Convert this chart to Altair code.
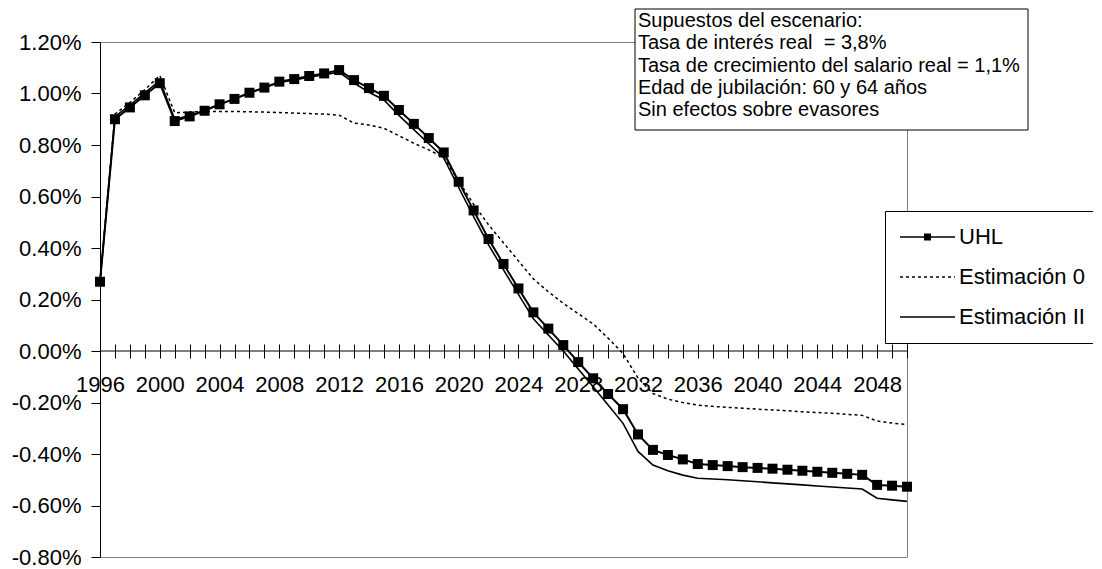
import altair as alt
import pandas as pd

years = list(range(1996, 2051))

uhl = [0.269, 0.900, 0.946, 0.993, 1.040, 0.893, 0.911, 0.933, 0.958, 0.979,
       1.003, 1.023, 1.046, 1.056, 1.068, 1.078, 1.091, 1.052, 1.021, 0.991,
       0.936, 0.882, 0.827, 0.771, 0.657, 0.546, 0.435, 0.338, 0.243, 0.150,
       0.087, 0.023, -0.043, -0.106, -0.167, -0.226, -0.324, -0.384, -0.404, -0.421,
       -0.439, -0.443, -0.447, -0.451, -0.454, -0.457, -0.461, -0.465, -0.469, -0.473,
       -0.477, -0.481, -0.520, -0.523, -0.527]

est0 = [0.269, 0.920, 0.965, 1.015, 1.070, 0.925, 0.928, 0.930, 0.930, 0.930,
        0.929, 0.928, 0.926, 0.924, 0.922, 0.920, 0.916, 0.885, 0.878, 0.865,
        0.836, 0.807, 0.781, 0.752, 0.660, 0.570, 0.490, 0.420, 0.350, 0.280,
        0.230, 0.185, 0.145, 0.105, 0.050, -0.010, -0.105, -0.165, -0.187, -0.200,
        -0.210, -0.215, -0.219, -0.222, -0.226, -0.229, -0.232, -0.236, -0.239, -0.242,
        -0.246, -0.250, -0.272, -0.280, -0.286]

est2 = [0.269, 0.910, 0.955, 1.002, 1.050, 0.900, 0.914, 0.935, 0.958, 0.979,
        1.002, 1.022, 1.043, 1.053, 1.063, 1.073, 1.083, 1.040, 1.005, 0.975,
        0.915, 0.860, 0.805, 0.750, 0.635, 0.522, 0.412, 0.315, 0.220, 0.125,
        0.062, 0.000, -0.070, -0.139, -0.210, -0.281, -0.390, -0.443, -0.465, -0.482,
        -0.494, -0.497, -0.500, -0.504, -0.508, -0.512, -0.516, -0.520, -0.524, -0.528,
        -0.532, -0.536, -0.572, -0.578, -0.584]

series_names = ["UHL", "Estimación 0", "Estimación II"]
y_ticks = [-0.008, -0.006, -0.004, -0.002, 0.0, 0.002, 0.004, 0.006, 0.008, 0.010, 0.012]
box_lines = [
    "Supuestos del escenario:",
    "Tasa de interés real \u00a0= 3,8%",
    "Tasa de crecimiento del salario real = 1,1%",
    "Edad de jubilación: 60 y 64 años",
    "Sin efectos sobre evasores",
]

rows = []
for name, vals in zip(series_names, [uhl, est0, est2]):
    for yr, v in zip(years, vals):
        rows.append({"year": yr, "value": v / 100.0, "series": name})
df = pd.DataFrame(rows)

FONT = "Liberation Sans"
AXFS = 22

x_enc = alt.X(
    "year:Q",
    scale=alt.Scale(domain=[1996, 2050], nice=False, zero=False),
    axis=alt.Axis(
        values=years, orient="bottom", offset=-213, domain=False,
        tickSize=14, tickColor="black", tickWidth=1,
        labelExpr="(datum.value - 1996) % 4 == 0 ? format(datum.value, 'd') : ''",
        labelPadding=16, labelFontSize=AXFS, labelFont=FONT, labelColor="black",
        labelOverlap=False, labelFlush=False, grid=False, title=None,
    ),
)
y_enc = alt.Y(
    "value:Q",
    scale=alt.Scale(domain=[-0.008, 0.012], nice=False, zero=False),
    axis=alt.Axis(
        values=y_ticks,
        labelExpr="(datum.value < 0 ? '-' : '') + format(abs(datum.value) * 100, '.2f') + '%'",
        tickSize=9, tickColor="black", domainColor="black", domainWidth=1,
        labelPadding=10, labelFontSize=AXFS, labelFont=FONT, labelColor="black",
        grid=False, title=None, labelFlush=False, labelOverlap=False,
    ),
)

base = alt.Chart(df).encode(x=x_enc, y=y_enc)

zero_rule = alt.Chart(pd.DataFrame({"value": [0.0]})).mark_rule(
    color="black", strokeWidth=1
).encode(y=y_enc)

e0 = base.transform_filter(alt.datum.series == "Estimación 0").mark_line(
    color="black", strokeWidth=1.5, strokeDash=[3, 3]
)
e2 = base.transform_filter(alt.datum.series == "Estimación II").mark_line(
    color="black", strokeWidth=1.6
)
u_line = base.transform_filter(alt.datum.series == "UHL").mark_line(
    color="black", strokeWidth=2
)
u_pts = base.transform_filter(alt.datum.series == "UHL").mark_point(
    shape="square", filled=True, size=100, color="black", opacity=1
)

# legend symbols drawn as filled paths (1 unit = 11 px, symbol box 22 px)
def rect(x0, x1, h):
    return f"M{x0:.3f},{-h:.3f}L{x1:.3f},{-h:.3f}L{x1:.3f},{h:.3f}L{x0:.3f},{h:.3f}Z"

solid_sym = rect(-1, 4, 0.07)
uhl_sym = solid_sym + rect(1.18, 1.82, 0.32)
dash_parts = []
pos = -1.0
while pos < 4:
    dash_parts.append(rect(pos, min(pos + 0.273, 4), 0.06))
    pos += 0.546
dot_sym = "".join(dash_parts)

leg_cfg = alt.Legend(
    title=None, orient="none", legendX=785, legendY=169, padding=15,
    strokeColor="black", fillColor="white", labelFont=FONT, labelFontSize=AXFS,
    labelColor="black", symbolSize=484, labelOffset=37, rowPadding=18,
    symbolStrokeWidth=0, symbolFillColor="black", symbolOpacity=1, labelLimit=300,
)

legend_layer = base.transform_filter("false").mark_point(
    filled=True, color="black", opacity=1
).encode(
    shape=alt.Shape("series:N", scale=alt.Scale(domain=series_names,
                    range=[uhl_sym, dot_sym, solid_sym]), legend=leg_cfg),
)

box = alt.Chart(pd.DataFrame({"k": [0]})).mark_rect(
    fill="white", stroke="black", strokeWidth=1
).encode(x=alt.value(535), x2=alt.value(928), y=alt.value(-33), y2=alt.value(88))

box_text = alt.Chart(pd.DataFrame({"k": [0]})).mark_text(
    text=box_lines, align="left", baseline="top", lineHeight=22.3,
    fontSize=20, font=FONT, color="black"
).encode(x=alt.value(538), y=alt.value(-31))

chart = alt.layer(zero_rule, e0, e2, u_line, u_pts, legend_layer, box, box_text).properties(
    width=807, height=515,
    autosize=alt.AutoSizeParams(type="none"),
    padding={"left": 92, "top": 34, "right": 186, "bottom": 14},
    background="white",
).configure_view(stroke="#808080", strokeWidth=1)

chart.save("out.html", embed_options={"renderer": "svg", "actions": False})
